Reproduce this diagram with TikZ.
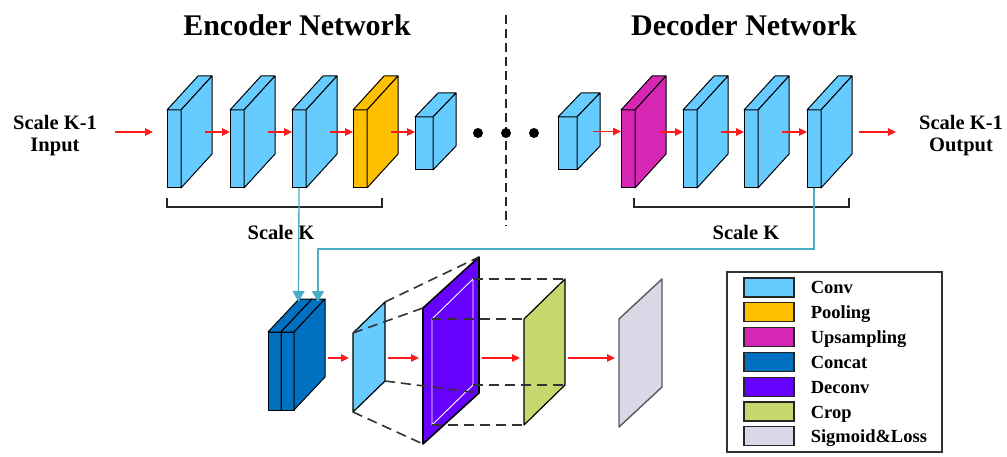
\documentclass[tikz,border=0pt]{standalone}
\usepackage{fontspec}
\setmainfont{Liberation Serif}
\usepackage{tikz}
\usetikzlibrary{arrows.meta,positioning}
\definecolor{convc}{HTML}{66CCFF}
\definecolor{poolc}{HTML}{FFC000}
\definecolor{upc}{HTML}{D626B4}
\definecolor{catc}{HTML}{0070C0}
\definecolor{deconvc}{HTML}{6600FF}
\definecolor{cropc}{HTML}{C4D86E}
\definecolor{sigc}{HTML}{DCD7E6}
\definecolor{skipc}{HTML}{4BACC6}
\definecolor{flowc}{HTML}{FF1A1A}
% 3d layer: name, x, y, width, height, depth, rise, colour
\newcommand{\layer}[8]{%
  \filldraw[slabline,fill=#8] (#2,#3) rectangle ++(#4,#5);
  \filldraw[slabline,fill=#8] (#2,#3) -- ++(#6,-#7) -- ++(#4,0) -- ++(-#6,#7) -- cycle;
  \filldraw[slabline,fill=#8] (#2+#4,#3) -- ++(#6,-#7) -- ++(0,#5) -- ++(-#6,#7) -- cycle;
  \coordinate (#1-in) at (#2,#3+#5/2-#7/2);
  \coordinate (#1-out) at (#2+#4+#6,#3+#5/2-#7/2);
  \coordinate (#1-bot) at (#2+#4/2,#3+#5);}
% flat map: name, x, y, depth, rise, height, options
\newcommand{\fmap}[7]{%
  \filldraw[line join=round,#7] (#2,#3) -- ++(#4,-#5) -- ++(0,#6) -- ++(-#4,#5) -- cycle;
  \coordinate (#1-tl) at (#2,#3);
  \coordinate (#1-tr) at (#2+#4,#3-#5);
  \coordinate (#1-br) at (#2+#4,#3-#5+#6);
  \coordinate (#1-bl) at (#2,#3+#6);
  \coordinate (#1-in) at (#2,#3);
  \coordinate (#1-out) at (#2+#4,#3);}

\begin{document}
\begin{tikzpicture}[x=1pt,y=-1pt,
  slabline/.style={draw=black,line width=1pt,line join=round},
  flow/.style={-{Triangle[length=8pt,width=7.5pt]},flowc,line width=1.2pt},
  skipline/.style={-{Triangle[length=11pt,width=12pt]},skipc,line width=1.3pt},
  dashline/.style={black!80,line width=1.6pt,dash pattern=on 10pt off 6pt},
  bracketline/.style={black!85,line width=1.3pt},
  heading/.style={font=\fontsize{30}{34}\selectfont\bfseries,inner sep=0pt},
  lbl/.style={font=\fontsize{20.5}{22}\selectfont\bfseries,inner sep=0pt,align=center},
  swatch/.style={draw=black!85,line width=1.2pt,minimum width=50pt,minimum height=19pt,inner sep=0pt},
  leglabel/.style={font=\fontsize{18.5}{20}\selectfont\bfseries,inner sep=0pt,anchor=base west}]
  \useasboundingbox (0,0) rectangle (1007,457);
  \node[heading] (enc) at (297,25) {Encoder Network};
  \node[heading] (dec) at (744,25) {Decoder Network};
  \draw[black!85,line width=1.3pt,dash pattern=on 9pt off 5pt] (506,15) -- (506,226);

  % encoder and decoder
  \foreach \n/\x/\c in {e1/167/convc,e2/230/convc,e3/292/convc,pool/353/poolc,
                        up/621/upc,d2/683/convc,d3/744/convc,d4/807/convc}
    \layer{\n}{\x}{110}{14}{78}{31}{34}{\c};
  \layer{eb}{415}{117}{18}{53}{23}{24}{convc}
  \layer{db}{558}{117}{19}{53}{23}{24}{convc}
  \foreach \x in {478,506,534} \fill (\x,133) circle (5pt);
  \foreach \a/\b in {e1/e2,e2/e3,e3/pool,pool/eb,db/up,up/d2,d2/d3,d3/d4}
    \draw[flow,shorten <=-7pt] (\a-out) -- (\a-out -| \b-in);

  \node[lbl] (inp) at (55,136) {Scale K-1\\Input};
  \node[lbl] (outp) at (961,136) {Scale K-1\\Output};
  \draw[flow,shorten <=18pt,shorten >=14pt] (inp.east |- e1-in) -- (e1-in);
  \draw[flow,shorten <=7pt,shorten >=23pt] (d4-out) -- (outp.west |- d4-out);

  \draw[bracketline] (167,198) |- (382,207) -- (382,198);
  \draw[bracketline] (634,198) |- (849,207) -- (849,198);
  \node[lbl] (sk1) at (281,232) {Scale K};
  \node[lbl] (sk2) at (746,232) {Scale K};

  % upsampling branch
  \layer{catA}{268}{332}{13}{78}{31}{33}{catc}
  \layer{catB}{281}{332}{13}{78}{31}{33}{catc}
  \coordinate (catin1) at (298.5,302);
  \coordinate (catin2) at (318,302);
  \draw[skipline] (e3-bot) -- (catin1);
  \draw[skipline] (d4-bot) -- ++(0,61) -| (catin2);

  \fmap{cv}{353}{333}{32}{31}{79}{fill=convc,draw=black,line width=1.2pt}
  \fmap{dc}{423}{308}{56}{51}{136}{fill=deconvc,draw=black,line width=1.6pt}
  \fmap{win}{432}{319}{41}{40}{106}{fill=none,draw=white,line width=0.9pt}
  \fmap{cr}{524}{319}{41}{40}{106}{fill=cropc,draw=black,line width=1.2pt}
  \fmap{sg}{619}{319}{43}{40}{108}{fill=sigc,draw=black!65,line width=1.4pt}
  \foreach \c in {tl,tr,br,bl} \draw[dashline] (cv-\c) -- (dc-\c);
  \foreach \c in {tl,tr,br,bl} \draw[dashline] (win-\c) -- (cr-\c);

  \coordinate (row) at (0,358);
  \foreach \a/\b in {catB/cv,cv/dc,dc/cr,cr/sg}
    \draw[flow,shorten <=3pt,shorten >=4pt] (\a-out |- row) -- (\b-in |- row);

  % legend
  \draw[black!80,line width=1.6pt] (727,272) rectangle (942,452);
  \foreach \col/\lab [count=\i] in {convc/Conv,poolc/Pooling,upc/Upsampling,catc/Concat,
                                    deconvc/Deconv,cropc/Crop,sigc/Sigmoid\&Loss}{
    \node[swatch,fill=\col] (sw\i) at (769,{262.7+24.8*\i}) {};
    \node[leglabel] (lg\i) at ([xshift=16pt,yshift=-6.5pt]sw\i.east) {\lab};
  }
\end{tikzpicture}
\end{document}
